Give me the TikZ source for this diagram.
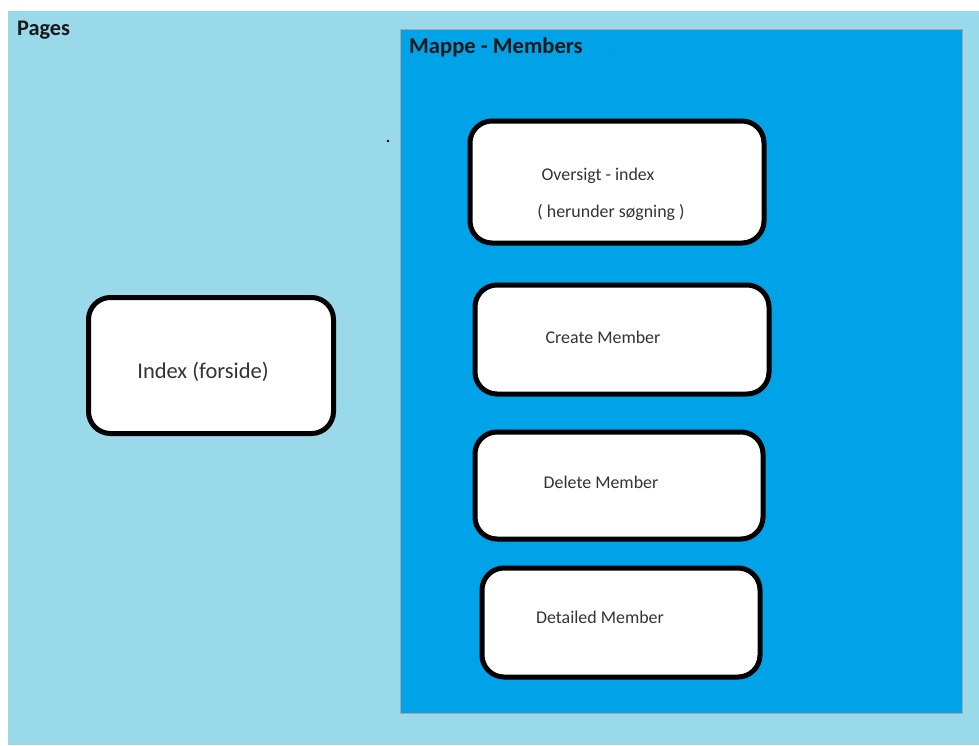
\documentclass[tikz,border=0pt]{standalone}
\usepackage{fontspec}
\setmainfont{Carlito}
\definecolor{lightturq}{HTML}{99D9EA}
\definecolor{turq}{HTML}{00A2E8}
\definecolor{txtgray}{HTML}{333333}
\begin{document}
\begin{tikzpicture}[x=1pt,y=-1pt,
  pagebox/.style={draw=black,line width=5pt,fill=white,rounded corners=22pt},
  lbl/.style={text=txtgray,font=\fontsize{17.9}{21}\selectfont,inner sep=0pt},
  heading/.style={text=black!90,inner sep=0pt,anchor=west}]
\useasboundingbox (0,0) rectangle (979,745);
\fill[white] (0,0) rectangle (979,745);
\fill[lightturq] (8,11) rectangle (979,745);
\draw[turq,fill=turq] (400,29) rectangle (962,713);
\draw[black!35,line width=0.8pt] (400,29) -- (400,713) -- (962,713) -- (962,29) -- cycle;
\node[heading,font=\bfseries\fontsize{22.3}{26}\selectfont] (pages) at (17,30) {Pages};
\node[heading,font=\bfseries\fontsize{22.6}{26}\selectfont] (mappe) at (409,47) {Mappe - Members};
\fill[black] (388,141) circle (1.4pt);
\fill[black!60] (615,52) circle (0.5pt);
% boxes
\draw[pagebox] (88.5,297.5) rectangle (333.5,433.5);
\node[text=txtgray,font=\fontsize{22.5}{26}\selectfont,inner sep=0pt] (index) at (203,372) {Index (forside)};
\draw[pagebox] (470,121) rectangle (764,243);
\node[lbl] (overs) at (598,176) {Oversigt - index};
\node[lbl] (herund) at (611,212) {( herunder søgning )};
\draw[pagebox] (475,285) rectangle (769,394);
\node[lbl] (create) at (603,337) {Create Member};
\draw[pagebox] (475,432) rectangle (763,539);
\node[lbl] (delete) at (601,482) {Delete Member};
\draw[pagebox] (482,568) rectangle (760,677);
\node[lbl] (detail) at (600,617) {Detailed Member};
\end{tikzpicture}
\end{document}
